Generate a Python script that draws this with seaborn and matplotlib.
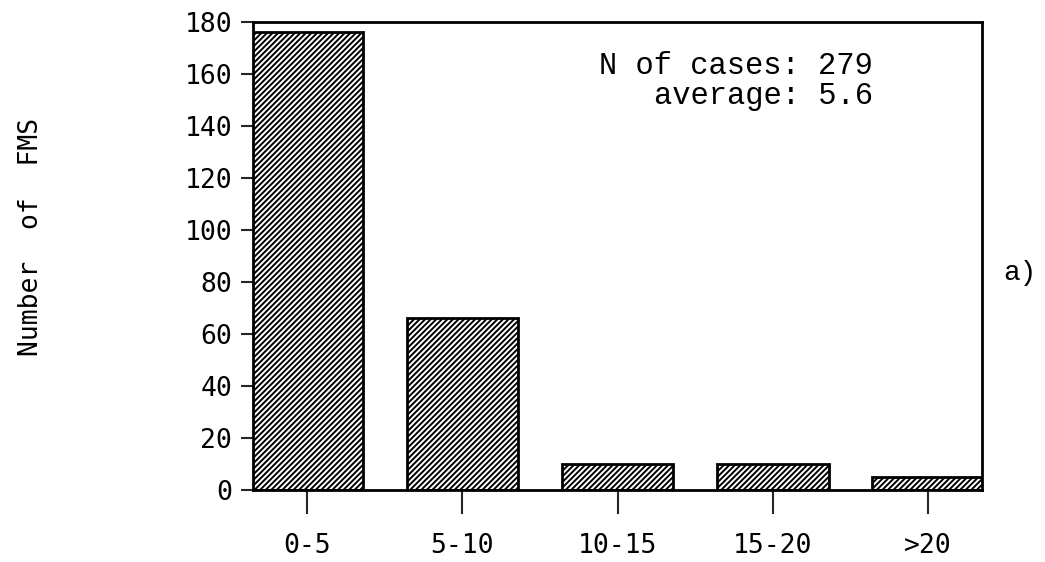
import matplotlib
matplotlib.use("Agg")
import matplotlib.pyplot as plt
import seaborn as sns
import pandas as pd

categories = ["0-5", "5-10", "10-15", "15-20", ">20"]
counts = [176, 66, 10, 10, 5]
yticks = [0, 20, 40, 60, 80, 100, 120, 140, 160, 180]
n_cases = 279
average = 5.6

sns.set_theme(style="white")
plt.rcParams['font.family'] = ['DejaVu Sans Mono', 'DejaVu Sans']
plt.rcParams['hatch.linewidth'] = 1.4

df = pd.DataFrame({"cat": categories, "n": counts})

fig = plt.figure(figsize=(10.45, 5.62), dpi=100)
ax = fig.add_axes([0.242, 0.128, 0.698, 0.833])
sns.barplot(data=df, x="cat", y="n", ax=ax, color="white", edgecolor="black",
            linewidth=2, width=0.72, hatch="//////", saturation=1)

ax.set_xlim(-0.35, 4.35)
ax.set_ylim(0, 180)
ax.set_yticks(yticks)
ax.set_yticklabels([str(v) for v in yticks], fontsize=19, color="black")
ax.set_xticks(range(len(categories)))
ax.set_xticklabels(categories, fontsize=19, color="black")
ax.tick_params(axis="y", direction="out", length=9, width=1.5, pad=6, left=True)
ax.tick_params(axis="x", direction="out", length=17, width=1.5, pad=14, bottom=True)
for s in ax.spines.values():
    s.set_visible(True)
    s.set_color("black")
    s.set_linewidth(2)
ax.set_xlabel("")
ax.set_ylabel("Number  of  FMS", fontsize=19, color="black")
ax.yaxis.set_label_coords(-0.286, 0.54)

ax.text(0.85, 0.938, f"N of cases: {n_cases}\naverage: {average}", transform=ax.transAxes,
        ha="right", va="top", fontsize=22, family="Liberation Mono", color="black",
        multialignment="right", linespacing=1.0)
fig.text(0.976, 0.515, "a)", fontsize=20, family="Liberation Mono", ha="center", va="center",
         color="black")

fig.savefig("out.png", dpi=100, facecolor="white")
